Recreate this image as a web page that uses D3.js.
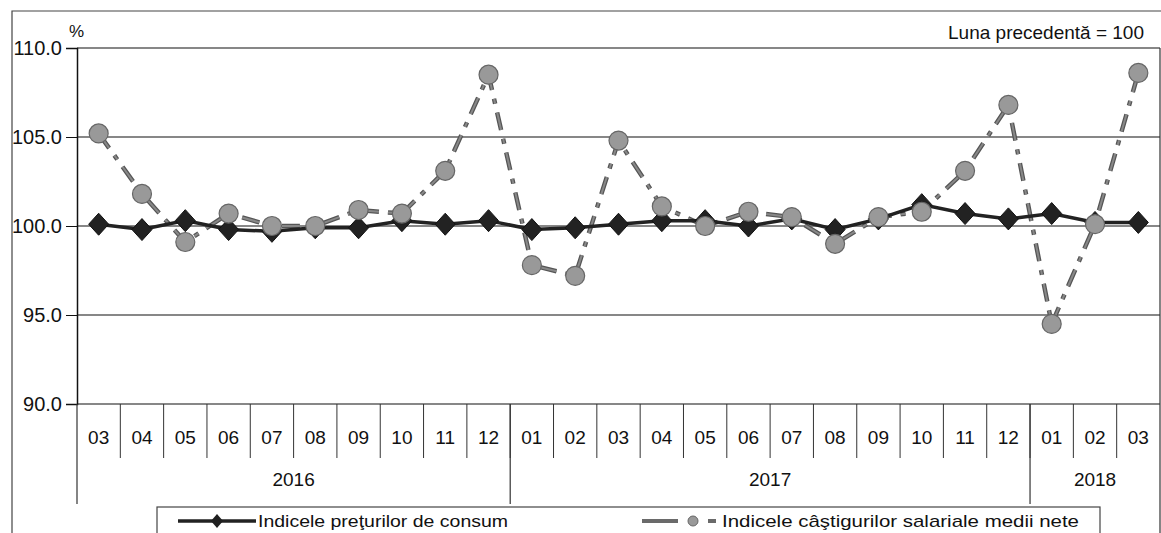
<!DOCTYPE html>
<html>
    <head>
        <meta charset="utf-8">
        <title>Indicii lunari</title>
        <style>
            body { margin: 0; background: #fff; }
            svg { display: block; font-family: "Liberation Sans", Arial, sans-serif; }
        </style>
    </head>
    <body>
        <div id="chart"></div>
        <script src="https://d3js.org/d3.v7.min.js"></script>
        <script>

            // data
            const months = ["03","04","05","06","07","08","09","10","11","12",
                            "01","02","03","04","05","06","07","08","09","10","11","12",
                            "01","02","03"]
            const years = ["2016", "2017", "2018"]
            const yearSpan = [10, 12, 3]   // how many months belong to each year
            const yTicks = [90, 95, 100, 105, 110]

            const cpi = [100.1, 99.8, 100.3, 99.8, 99.7, 99.9, 99.9, 100.3, 100.1, 100.3,
                         99.8, 99.9, 100.1, 100.3, 100.3, 100.0, 100.4, 99.8, 100.4, 101.2, 100.7, 100.4,
                         100.7, 100.2, 100.2]
            const wages = [105.2, 101.8, 99.1, 100.7, 100.0, 100.0, 100.9, 100.7, 103.1, 108.5,
                           97.8, 97.2, 104.8, 101.1, 100.0, 100.8, 100.5, 99.0, 100.5, 100.8, 103.1, 106.8,
                           94.5, 100.1, 108.6]

            const cpiLabel = "Indicele preţurilor de consum"
            const wageLabel = "Indicele câştigurilor salariale medii nete"

            let w = 1161
            let h = 533
            let plotLeft = 77, plotRight = 1160, plotTop = 48, plotBottom = 404

            let svg = d3.select("#chart")
                .append("svg")
                .attr("width", w)
                .attr("height", h)

            let idx = months.map((m, i) => i)

            let xScale = d3.scaleBand()
                .domain(idx)
                .range([plotLeft, plotRight])
                .padding(0)

            let yScale = d3.scaleLinear()
                .domain([90, 110])
                .range([plotBottom, plotTop])

            // outer frame
            svg.append("path")
                .attr("d", "M12," + h + " L12,11 L" + w + ",11")
                .attr("fill", "none")
                .attr("stroke", "#444")
                .attr("stroke-width", 1.2)

            // gridlines
            svg.append("g")
                .selectAll("line")
                .data(yTicks)
                .enter()
                .append("line")
                .attr("x1", plotLeft)
                .attr("x2", plotRight)
                .attr("y1", d => yScale(d))
                .attr("y2", d => yScale(d))
                .attr("stroke", "#111")
                .attr("stroke-width", 1.2)

            // y axis
            const yAxis = d3.axisLeft(yScale)
                .tickValues(yTicks)
                .tickSize(11)
                .tickPadding(4)
                .tickFormat(d3.format(".1f"))

            let yg = svg.append("g")
                .attr("transform", "translate(" + plotLeft + ",0)")
                .call(yAxis)
            yg.attr("font-size", 20).attr("font-family", "Liberation Sans, Arial, sans-serif")
            yg.select(".domain").attr("stroke", "#111").attr("stroke-width", 1.5)
            yg.selectAll(".tick line").attr("stroke", "#111")
            yg.selectAll("text")
                .attr("fill", "#111")

            // right border of plot + category table
            svg.append("line")
                .attr("x1", plotRight).attr("x2", plotRight)
                .attr("y1", plotTop).attr("y2", h)
                .attr("stroke", "#333")
                .attr("stroke-width", 1.2)

            svg.append("text")
                .attr("x", 69)
                .attr("y", 37)
                .attr("font-size", 17)
                .attr("fill", "#111")
                .text("%")

            svg.append("text")
                .attr("x", 1144)
                .attr("y", 39)
                .attr("text-anchor", "end")
                .attr("font-size", 19)
                .attr("fill", "#111")
                .text("Luna precedentă = 100")

            // month table under the plot
            let monthG = svg.append("g")

            monthG.selectAll("line")
                .data(idx.slice(1))
                .enter()
                .append("line")
                .attr("x1", d => xScale(d))
                .attr("x2", d => xScale(d))
                .attr("y1", plotBottom)
                .attr("y2", 458)
                .attr("stroke", "#333")

            monthG.selectAll("text")
                .data(months)
                .enter()
                .append("text")
                .attr("x", (d, i) => xScale(i) + xScale.bandwidth() / 2)
                .attr("y", 444)
                .attr("text-anchor", "middle")
                .attr("font-size", 19)
                .attr("fill", "#111")
                .text(d => d)

            // year dividers and labels
            let starts = []
            let acc = 0
            yearSpan.forEach(n => { starts.push(acc); acc += n })

            svg.append("g")
                .selectAll("line")
                .data(starts)
                .enter()
                .append("line")
                .attr("x1", d => xScale(d))
                .attr("x2", d => xScale(d))
                .attr("y1", plotBottom)
                .attr("y2", 504)
                .attr("stroke", "#333")
                .attr("stroke-width", 1.2)

            svg.append("g")
                .selectAll("text")
                .data(years)
                .enter()
                .append("text")
                .attr("x", (d, i) => {
                    let a = xScale(starts[i])
                    let b = i + 1 < starts.length ? xScale(starts[i + 1]) : plotRight
                    return (a + b) / 2
                })
                .attr("y", 486)
                .attr("text-anchor", "middle")
                .attr("font-size", 19)
                .attr("fill", "#111")
                .text(d => d)

            let cx = i => xScale(i) + xScale.bandwidth() / 2

            // wages series: gray dash-dot line with circles
            let wageLine = d3.line()
                .x((d, i) => cx(i))
                .y(d => yScale(d))

            svg.append("path")
                .datum(wages)
                .attr("d", wageLine)
                .attr("fill", "none")
                .attr("stroke", "#555")
                .attr("stroke-width", 4.5)
                .attr("stroke-dasharray", "18,9,5,9")

            svg.append("path")
                .datum(wages)
                .attr("d", wageLine)
                .attr("fill", "none")
                .attr("stroke", "#888")
                .attr("stroke-width", 2)
                .attr("stroke-dasharray", "18,9,5,9")

            // cpi series: dark line with diamonds
            let cpiLine = d3.line()
                .x((d, i) => cx(i))
                .y(d => yScale(d))

            svg.append("path")
                .datum(cpi)
                .attr("d", cpiLine)
                .attr("fill", "none")
                .attr("stroke", "#222")
                .attr("stroke-width", 3.5)

            svg.append("g")
                .selectAll("path")
                .data(cpi)
                .enter()
                .append("path")
                .attr("d", "M0,-11 L10,0 L0,11 L-10,0 Z")
                .attr("transform", (d, i) => "translate(" + cx(i) + "," + yScale(d) + ")")
                .attr("fill", "#222")
                .attr("stroke", "#111")

            svg.append("g")
                .selectAll("circle")
                .data(wages)
                .enter()
                .append("circle")
                .attr("cx", (d, i) => cx(i))
                .attr("cy", d => yScale(d))
                .attr("r", 9.5)
                .attr("fill", "#999")
                .attr("stroke", "#666")
                .attr("stroke-width", 1.2)

            // legend
            let lg = svg.append("g")

            lg.append("rect")
                .attr("x", 157)
                .attr("y", 507)
                .attr("width", 943)
                .attr("height", 40)
                .attr("fill", "#fff")
                .attr("stroke", "#444")
                .attr("stroke-width", 1.2)

            lg.append("line")
                .attr("x1", 178).attr("x2", 256)
                .attr("y1", 521).attr("y2", 521)
                .attr("stroke", "#222")
                .attr("stroke-width", 3.5)

            lg.append("path")
                .attr("d", "M0,-7 L6,0 L0,7 L-6,0 Z")
                .attr("transform", "translate(217,521)")
                .attr("fill", "#1f1f1f")

            lg.append("text")
                .attr("x", 258)
                .attr("y", 527)
                .attr("font-size", 17)
                .attr("fill", "#111")
                .attr("textLength", 250)
                .attr("lengthAdjust", "spacingAndGlyphs")
                .text(cpiLabel)

            lg.append("line")
                .attr("x1", 642).attr("x2", 716)
                .attr("y1", 521).attr("y2", 521)
                .attr("stroke", "#6a6a6a")
                .attr("stroke-width", 4)
                .attr("stroke-dasharray", "36,12,6,12")

            lg.append("circle")
                .attr("cx", 693)
                .attr("cy", 521)
                .attr("r", 5)
                .attr("fill", "#999")
                .attr("stroke", "#666")

            lg.append("text")
                .attr("x", 722)
                .attr("y", 527)
                .attr("font-size", 17)
                .attr("fill", "#111")
                .attr("textLength", 357)
                .attr("lengthAdjust", "spacingAndGlyphs")
                .text(wageLabel)

        </script>
    </body>
</html>
